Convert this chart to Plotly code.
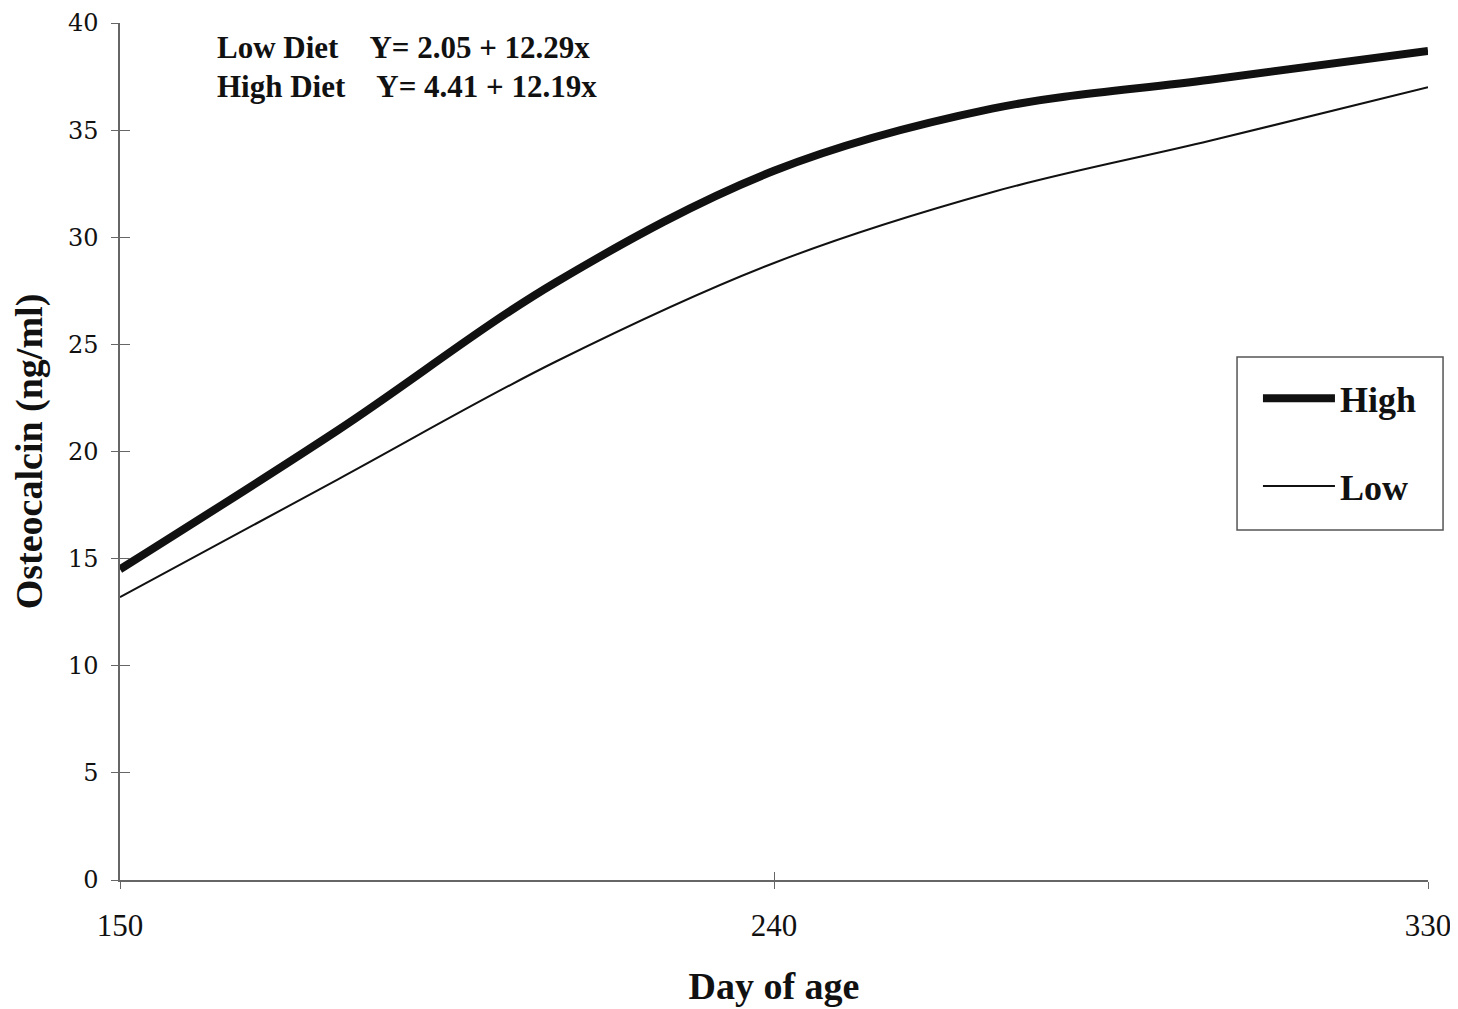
import plotly.graph_objects as go

days = [150, 180, 210, 240, 270, 300, 330]
high = [14.5, 21.0, 27.9, 33.1, 36.0, 37.35, 38.7]
low = [13.2, 18.7, 24.2, 28.8, 32.1, 34.5, 37.0]
x_ticks = [150, 240, 330]
y_ticks = [0, 5, 10, 15, 20, 25, 30, 35, 40]
eq_lines = ["Low Diet   Y= 2.05 + 12.29x", "High Diet   Y= 4.41 + 12.19x"]

SERIF = "Liberation Serif, Times New Roman, serif"
WIDE_SERIF = "DejaVu Serif, serif"

fig = go.Figure()
fig.add_trace(go.Scatter(x=days, y=high, mode="lines", name="<b>High</b>",
                         line=dict(color="#111111", width=8, shape="spline", smoothing=1.0),
                         legendgroup="h"))
fig.add_trace(go.Scatter(x=days, y=low, mode="lines", name="<b>Low</b>",
                         line=dict(color="#111111", width=2, shape="spline", smoothing=1.0),
                         legendgroup="l"))

axis_common = dict(showgrid=False, zeroline=False, linecolor="#666666", linewidth=1.5,
                   ticks="outside", tickcolor="#666666", ticklen=7, tickwidth=1.2,
                   automargin=False)

# page has an 8px body margin; figure sized so the plot area lands where the reference has it
fig.update_layout(
    width=1450, height=1001,
    margin=dict(l=112, r=30, t=15, b=129),
    paper_bgcolor="white", plot_bgcolor="white",
    font=dict(family=SERIF, color="#111111"),
    xaxis=dict(range=[150, 330], tickvals=x_ticks, ticktext=[str(v) for v in x_ticks],
               tickfont=dict(size=31, family=SERIF), ticklabelstandoff=10,
               title=dict(text="<b>Day of age</b>", font=dict(size=38, family=SERIF), standoff=30),
               **axis_common),
    yaxis=dict(range=[0, 40], tickvals=y_ticks,
               tickfont=dict(size=24, family=WIDE_SERIF), ticklabelstandoff=8,
               title=dict(text="<b>Osteocalcin (ng/ml)</b>", font=dict(size=38, family=SERIF), standoff=20),
               **axis_common),
    xaxis2=dict(range=[150, 330], tickvals=x_ticks, overlaying="x", side="bottom", anchor="y",
                showticklabels=False, showgrid=False, zeroline=False, showline=False,
                ticks="inside", tickcolor="#666666", ticklen=8, tickwidth=1.2),
    yaxis2=dict(range=[0, 40], tickvals=y_ticks, overlaying="y", side="left", anchor="x",
                showticklabels=False, showgrid=False, zeroline=False, showline=False,
                ticks="inside", tickcolor="#666666", ticklen=10, tickwidth=1.2),
    legend=dict(x=0.870, y=0.597, xanchor="left", yanchor="top",
                borderwidth=0, bgcolor="rgba(0,0,0,0)",
                font=dict(size=36, family=SERIF), tracegroupgap=38,
                itemwidth=72),
    showlegend=True,
)

# legend frame (reference frame is wider than plotly's own legend box)
fig.add_shape(type="rect", xref="paper", yref="paper",
              x0=0.854, x1=1.0115, y0=0.4084, y1=0.6103,
              line=dict(color="#555555", width=1.5), fillcolor="rgba(0,0,0,0)", layer="above")

# invisible trace to activate secondary axes for crossing ticks
fig.add_trace(go.Scatter(x=[days[0]], y=[low[0]], xaxis="x2", yaxis="y2", mode="markers",
                         marker=dict(opacity=0), showlegend=False, hoverinfo="skip"))

for i, txt in enumerate(eq_lines):
    fig.add_annotation(x=0.073, y=0.971 - i * 0.045, xref="paper", yref="paper",
                       xanchor="left", yanchor="middle", showarrow=False,
                       text="<b>" + txt.replace("   ", "&nbsp;&nbsp;&nbsp;&nbsp;") + "</b>",
                       font=dict(size=31, family=SERIF, color="#111111"))

fig.write_html("out.html")
